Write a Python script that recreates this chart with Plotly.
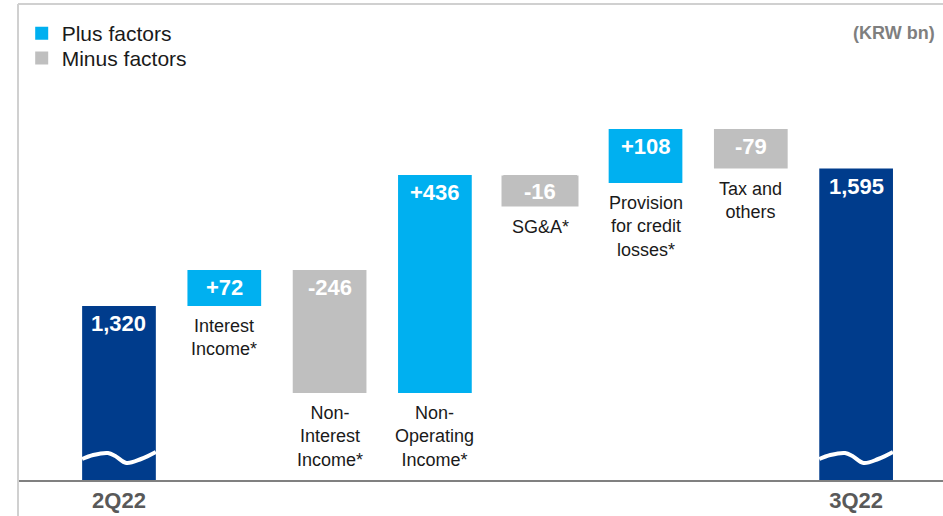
import plotly.graph_objects as go

# ---------------- data ----------------
categories = ["2Q22", "Interest<br>Income*", "Non-<br>Interest<br>Income*",
              "Non-<br>Operating<br>Income*", "SG&A*",
              "Provision<br>for credit<br>losses*", "Tax and<br>others", "3Q22"]
measures = ["total", "relative", "relative", "relative", "relative", "relative", "relative", "total"]
values = [1320, 72, -246, 436, -16, 108, -79, 1595]
value_labels = ["1,320", "+72", "-246", "+436", "-16", "+108", "-79", "1,595"]
tick_positions = [0, 7]
tick_labels = ["2Q22", "3Q22"]
legend_names = ["Plus factors", "Minus factors"]

# ---------------- style ----------------
CYAN = "#00B0F0"
GRAY = "#BFBFBF"
NAVY = "#003C8C"
FONT = "Liberation Sans, Arial, sans-serif"
Y_RANGE = [972, 1924]
X_RANGE = [-0.959, 7.825]
MARGIN = dict(l=18, r=0, t=4, b=36)
W, H = 943, 516
BAR_W = 0.7

plot_h = H - MARGIN["t"] - MARGIN["b"]
plot_w = W - MARGIN["l"] - MARGIN["r"]
px_per_unit = plot_h / (Y_RANGE[1] - Y_RANGE[0])
px_per_cat = plot_w / (X_RANGE[1] - X_RANGE[0])

# compute bar bases / heights
xs = list(range(len(values)))
bases, heights, colors = [], [], []
running = 0
for m, v in zip(measures, values):
    if m == "total":
        bases.append(0)
        heights.append(v)
        colors.append(NAVY)
        running = v
    else:
        bases.append(running)
        heights.append(v)
        colors.append(CYAN if v >= 0 else GRAY)
        running += v

fig = go.Figure()
fig.add_trace(go.Bar(x=xs, y=heights, base=bases, width=BAR_W,
                     marker=dict(color=colors, line=dict(width=0)),
                     showlegend=False, hoverinfo="skip"))

# legend entries (two separate legends for exact placement)
fig.add_trace(go.Scatter(x=[None], y=[None], mode="markers", name=legend_names[0],
                         marker=dict(symbol="square", size=13, color=CYAN), legend="legend"))
fig.add_trace(go.Scatter(x=[None], y=[None], mode="markers", name=legend_names[1],
                         marker=dict(symbol="square", size=13, color=GRAY), legend="legend2"))

# wavy "axis break" decoration on total bars
wave_t = [0, 0.15, 0.35, 0.45, 0.6, 0.8, 1.0]
wave_px = [21, 25, 27, 24, 17, 21, 28]
for i, m in enumerate(measures):
    if m == "total":
        wx = [i - BAR_W / 2 + t * BAR_W for t in wave_t]
        wy = [Y_RANGE[0] + p / px_per_unit for p in wave_px]
        fig.add_trace(go.Scatter(x=wx, y=wy, mode="lines",
                                 line=dict(color="white", width=4, shape="spline"),
                                 showlegend=False, hoverinfo="skip"))

annotations = []
BOX_H = 28
for i, (b, h, lab, cat, m) in enumerate(zip(bases, heights, value_labels, categories, measures)):
    top = max(b, b + h)
    bottom = min(b, b + h)
    bar_px = abs(h) * px_per_unit if m != "total" else 999
    short = bar_px < BOX_H
    annotations.append(dict(x=i, y=top, xref="x", yref="y", text="<b>%s</b>" % lab,
                            showarrow=False, yanchor="top", xanchor="center",
                            yshift=0 if short else -3,
                            font=dict(family=FONT, size=22, color="white"),
                            bgcolor=colors[i] if short else "rgba(0,0,0,0)",
                            width=BAR_W * px_per_cat if short else None,
                            height=BOX_H if short else None))
    if m != "total":
        extra = (BOX_H - bar_px) if short else 0
        annotations.append(dict(x=i, y=bottom, xref="x", yref="y", text=cat,
                                showarrow=False, yanchor="top", xanchor="center",
                                yshift=-8 - extra - (4 if short else 0),
                                font=dict(family=FONT, size=18, color="#1A1A1A")))

annotations.append(dict(x=0.9935, y=0.939, xref="paper", yref="paper", text="<b>(KRW bn)</b>",
                        showarrow=False, xanchor="right", yanchor="middle",
                        font=dict(family=FONT, size=18, color="#7F7F7F")))

shapes = [
    dict(type="line", xref="paper", yref="paper", x0=0, x1=0, y0=-0.2, y1=1,
         line=dict(color="#D0D0D0", width=2)),
    dict(type="line", xref="paper", yref="paper", x0=0, x1=1.02, y0=1, y1=1,
         line=dict(color="#D0D0D0", width=2)),
]

legend_style = dict(xanchor="left", yanchor="top",
                    font=dict(family=FONT, size=21, color="#1A1A1A"),
                    bgcolor="rgba(0,0,0,0)", itemwidth=30)

fig.update_layout(
    width=W, height=H, margin=MARGIN,
    plot_bgcolor="white", paper_bgcolor="white",
    barmode="overlay",
    font=dict(family=FONT),
    showlegend=True,
    legend=dict(x=0.004, y=0.981, **legend_style),
    legend2=dict(x=0.004, y=0.929, **legend_style),
    annotations=annotations,
    shapes=shapes,
    xaxis=dict(range=X_RANGE, showgrid=False, zeroline=False,
               showline=True, linecolor="#808080", linewidth=2,
               tickvals=tick_positions, ticktext=["<b>%s</b>" % t for t in tick_labels],
               tickfont=dict(family=FONT, size=22, color="#595959"), ticks=""),
    yaxis=dict(range=Y_RANGE, visible=False, showgrid=False, zeroline=False),
)

fig.write_html("out.html", config={"displayModeBar": False},
               post_script="document.body.style.margin='0px';")
